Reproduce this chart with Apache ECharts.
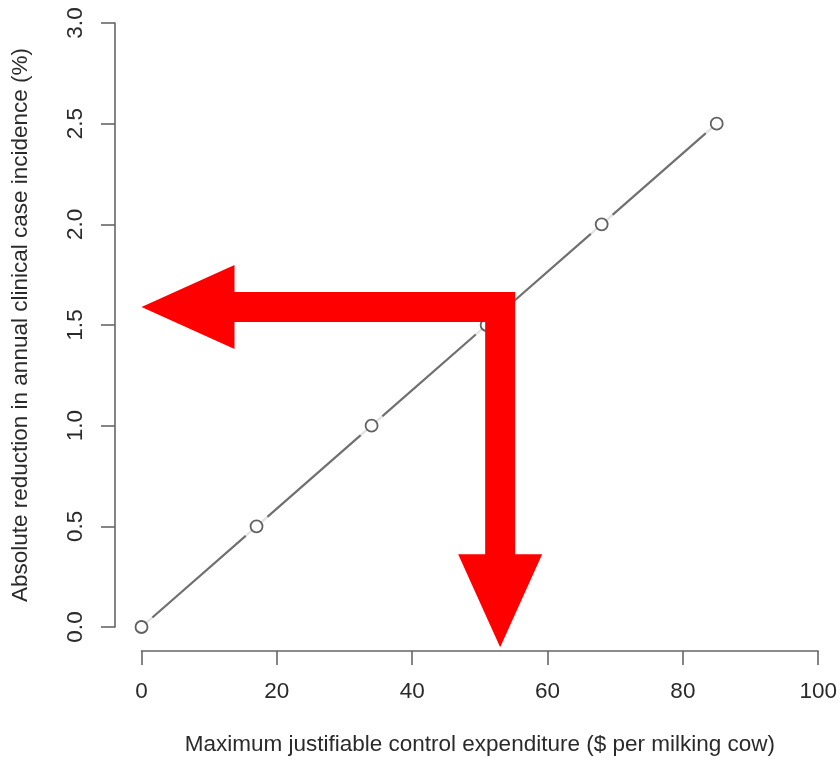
<!DOCTYPE html>
<html>
<head>
<meta charset="utf-8">
<script src="https://cdn.jsdelivr.net/npm/echarts@6/dist/echarts.min.js"></script>
<style>html,body{margin:0;padding:0;background:#fff}#c{width:840px;height:762px}</style>
</head>
<body>
<div id="c"></div>
<script>
// Data
const expenditure = [0, 17, 34, 51, 68, 85];          // $ per milking cow
const reduction = [0, 0.5, 1.0, 1.5, 2.0, 2.5];         // % absolute reduction
// Red L-shaped arrow annotation path (left tip, corner, bottom tip) in data units
const arrowX = [0, 53, 53];
const arrowY = [1.59, 1.59, -0.1];
const xTitle = 'Maximum justifiable control expenditure ($ per milking cow)';
const yTitle = 'Absolute reduction in annual clinical case incidence (%)';

const pts = expenditure.map((x, i) => [x, reduction[i]]);
const arrowData = arrowX.map((x, i) => [x, arrowY[i]]);

const FONT = '"Liberation Sans", Arial, sans-serif';
const chart = echarts.init(document.getElementById('c'), null, {renderer: 'canvas'});
chart.setOption({
  animation: false,
  backgroundColor: '#fff',
  grid: {left: 141.5, right: 19, top: 23, bottom: 135, containLabel: false},
  xAxis: {
    type: 'value', min: 0, max: 100, interval: 20, offset: 24,
    name: xTitle, nameLocation: 'middle', nameGap: 82,
    nameTextStyle: {fontFamily: FONT, fontSize: 22.5, color: '#2a2a2a'},
    axisLine: {show: true, onZero: false, lineStyle: {color: '#666', width: 1.6}},
    axisTick: {show: true, length: 14, lineStyle: {color: '#666', width: 1.6}},
    axisLabel: {fontFamily: FONT, fontSize: 22.5, color: '#2a2a2a', margin: 29},
    splitLine: {show: false}
  },
  yAxis: {
    type: 'value', min: 0, max: 3, interval: 0.5, offset: 26.5,
    name: yTitle, nameLocation: 'middle', nameGap: 83, nameRotate: 90,
    nameTextStyle: {fontFamily: FONT, fontSize: 22.5, color: '#2a2a2a'},
    axisLine: {show: true, onZero: false, lineStyle: {color: '#666', width: 1.6}},
    axisTick: {show: true, length: 14, lineStyle: {color: '#666', width: 1.6}},
    axisLabel: {fontFamily: FONT, fontSize: 22.5, color: '#2a2a2a', margin: 28, rotate: 90,
      formatter: v => v.toFixed(1)},
    splitLine: {show: false}
  },
  series: [
    {type: 'line', data: pts, symbol: 'none', z: 2, silent: true,
     lineStyle: {color: '#707070', width: 2.2}},
    {type: 'scatter', data: pts, symbol: 'circle', symbolSize: 29, z: 3, silent: true,
     itemStyle: {color: '#fff', borderWidth: 0}},
    {type: 'scatter', data: pts, symbol: 'circle', symbolSize: 12, z: 4, silent: true,
     itemStyle: {color: '#fff', borderColor: '#3a3a3a', borderWidth: 1.8}},
    {type: 'custom', data: arrowData, z: 10, silent: true, clip: false,
     renderItem: function (params, api) {
       if (params.dataIndex !== 0) return null;
       const p = arrowData.map(d => api.coord(d));
       const sw = 30, hl = 93, hw = 84;
       const tl = p[0], c = p[1], td = p[2];
       const y = tl[1], x = c[0];
       const poly = [
         [tl[0], y],
         [tl[0] + hl, y - hw / 2],
         [tl[0] + hl, y - sw / 2],
         [x + sw / 2, y - sw / 2],
         [x + sw / 2, td[1] - hl],
         [x + hw / 2, td[1] - hl],
         [x, td[1]],
         [x - hw / 2, td[1] - hl],
         [x - sw / 2, td[1] - hl],
         [x - sw / 2, y + sw / 2],
         [tl[0] + hl, y + sw / 2],
         [tl[0] + hl, y + hw / 2]
       ];
       return {type: 'polygon', shape: {points: poly}, style: {fill: '#ff0000', stroke: null}};
     }}
  ]
});
</script>
</body>
</html>
